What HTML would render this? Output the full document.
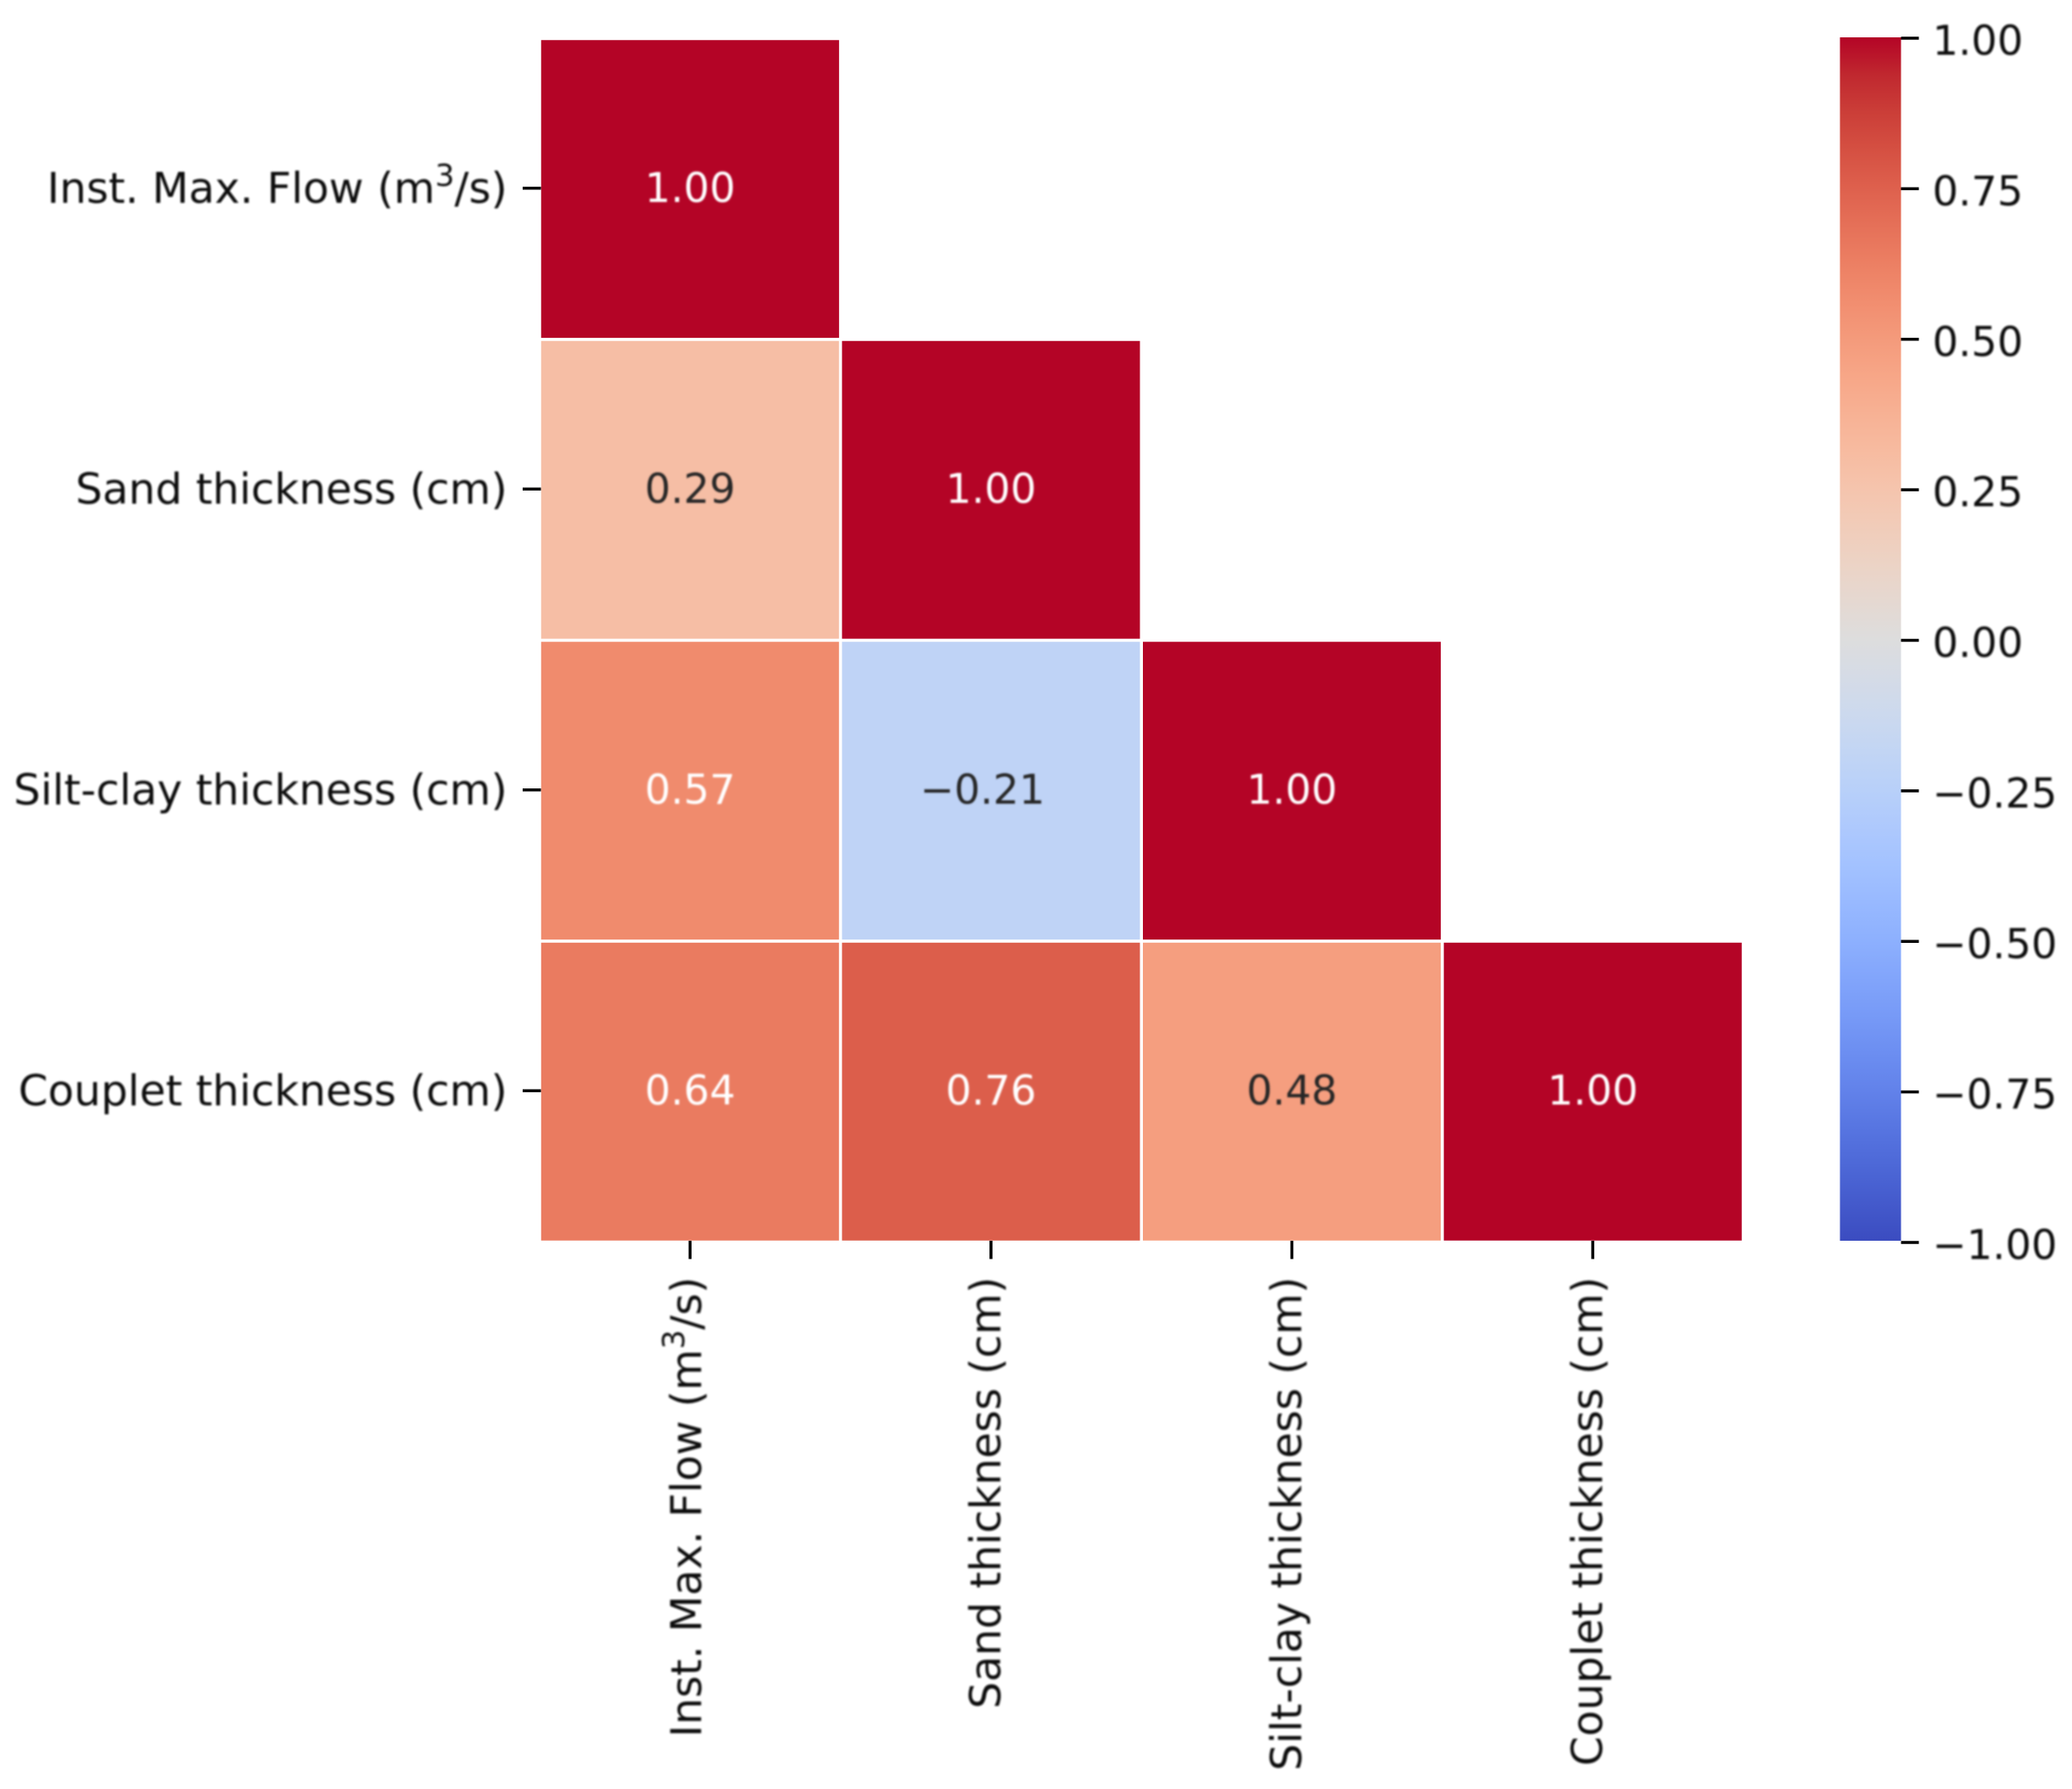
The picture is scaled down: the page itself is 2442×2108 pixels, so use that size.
<!DOCTYPE html>
<html lang="en">
<head>
<meta charset="utf-8">
<title>Correlation heatmap</title>
<style>
  html, body { margin: 0; padding: 0; background: #ffffff; }
  svg { display: block; }
  text { font-family: "DejaVu Sans", "Liberation Sans", sans-serif; }
</style>
</head>
<body>
<svg id="chart" xmlns="http://www.w3.org/2000/svg" width="2442" height="2108" viewBox="0 0 2442 2108">
  <defs>
    <linearGradient id="cbar-gradient" x1="0" y1="1" x2="0" y2="0"></linearGradient>
    <filter id="soft" x="-5%" y="-5%" width="110%" height="110%"><feGaussianBlur stdDeviation="1"></feGaussianBlur></filter>
  </defs>
  <g id="cells"></g>
  <g id="annotations" filter="url(#soft)"></g>
  <g id="y-axis"></g>
  <g id="x-axis"></g>
  <rect id="cbar" x="2168.5" y="44" width="72" height="1418" fill="url(#cbar-gradient)"></rect>
  <g id="cbar-axis"></g>
</svg>
<script>
// Chart data
const rowLabels = ['Inst. Max. Flow (m^3/s)', 'Sand thickness (cm)', 'Silt-clay thickness (cm)', 'Couplet thickness (cm)'];
const colLabels = ['Inst. Max. Flow (m^3/s)', 'Sand thickness (cm)', 'Silt-clay thickness (cm)', 'Couplet thickness (cm)'];
const row1Values = [1.00, null, null, null];
const row2Values = [0.29, 1.00, null, null];
const row3Values = [0.57, -0.21, 1.00, null];
const row4Values = [0.64, 0.76, 0.48, 1.00];
const cbarTicks = [1.00, 0.75, 0.50, 0.25, 0.00, -0.25, -0.50, -0.75, -1.00];
const valueMin = -1;
const valueMax = 1;

// matplotlib "coolwarm" colormap, evenly spaced control colours
const coolwarm = [
  [0.2298057,0.298717966,0.753683153],[0.26623388,0.353094838,0.801466763],[0.30386891,0.406535296,0.84495867],
  [0.342804478,0.458757618,0.883725899],[0.38301334,0.50941904,0.917387822],[0.424369608,0.558148092,0.945619588],
  [0.46666708,0.604562568,0.968154911],[0.509635204,0.648280772,0.98478814],[0.552953156,0.688929332,0.995375608],
  [0.596262162,0.726149107,0.999836203],[0.639176211,0.759599947,0.998151185],[0.681291281,0.788964712,0.990363227],
  [0.722193294,0.813952739,0.976574709],[0.761464949,0.834302879,0.956945269],[0.798691636,0.849786142,0.931688648],
  [0.833466556,0.860207984,0.901068838],[0.865395197,0.86541021,0.865395561],[0.897787179,0.848937047,0.820880546],
  [0.924127593,0.827384882,0.774508472],[0.944468518,0.800927443,0.726736146],[0.958852946,0.769767752,0.678007945],
  [0.96732803,0.734132809,0.628751763],[0.969954137,0.694266682,0.579375448],[0.966811177,0.650421156,0.530263762],
  [0.958003065,0.602842431,0.481775914],[0.943660866,0.551750968,0.434243684],[0.923944917,0.49730856,0.387970225],
  [0.89904617,0.439559467,0.343229596],[0.869186849,0.378313092,0.300267182],[0.834620542,0.312874446,0.259301199],
  [0.795631745,0.24128379,0.220525627],[0.752534934,0.157246067,0.184115123],[0.705673158,0.01555616,0.150232812]
];

const matrix = [row1Values, row2Values, row3Values, row4Values];
const NS = 'http://www.w3.org/2000/svg';
const FONT_SIZE = 48;
const AXIS_FONT_SIZE = 50;
const TICK_COLOR = '#000000';
const LABEL_COLOR = '#111111';

// Axis functions (grid lines run 1.75px outside the visible cell edge, white on white)
const plot = { left: 636, right: 2054.5, top: 45.5, bottom: 1463.5 };
const cbarBox = { right: 2240.5, top: 45, bottom: 1464 };
function xBand() { return (plot.right - plot.left) / colLabels.length; }
function yBand() { return (plot.bottom - plot.top) / rowLabels.length; }
function xEdge(col) { return plot.left + col * xBand(); }
function yEdge(row) { return plot.top + row * yBand(); }
function xCenter(col) { return xEdge(col) + xBand() / 2; }
function yCenter(row) { return yEdge(row) + yBand() / 2; }
function cbarY(v) { return cbarBox.bottom - (v - valueMin) / (valueMax - valueMin) * (cbarBox.bottom - cbarBox.top); }

function rgbOf(v) {
  const t = Math.max(0, Math.min(1, (v - valueMin) / (valueMax - valueMin))) * (coolwarm.length - 1);
  const i = Math.min(Math.floor(t), coolwarm.length - 2);
  const f = t - i;
  return coolwarm[i].map((c, k) => c + (coolwarm[i + 1][k] - c) * f);
}
function cssColor(rgb) {
  return 'rgb(' + rgb.map(c => Math.round(c * 255)).join(',') + ')';
}
function luminance(rgb) {
  const lin = rgb.map(c => c <= 0.03928 ? c / 12.92 : Math.pow((c + 0.055) / 1.055, 2.4));
  return 0.2126 * lin[0] + 0.7152 * lin[1] + 0.0722 * lin[2];
}
function fmt(v) {
  return (v < 0 ? '\u2212' : '') + Math.abs(v).toFixed(2);
}
function make(tag, attrs, parent) {
  const el = document.createElementNS(NS, tag);
  Object.keys(attrs).forEach(k => el.setAttribute(k, attrs[k]));
  parent.appendChild(el);
  return el;
}
// Writes a label, raising the character after "^" as a superscript
function writeLabel(el, label) {
  const parts = label.split('^');
  if (parts.length === 1) { el.textContent = label; return; }
  el.appendChild(document.createTextNode(parts[0]));
  const sup = make('tspan', { 'font-size': AXIS_FONT_SIZE * 0.72, dy: -20 }, el);
  sup.textContent = parts[1].charAt(0);
  const rest = make('tspan', { dy: 20 }, el);
  rest.textContent = parts[1].slice(1);
}

const cellsG = document.getElementById('cells');
const annotG = document.getElementById('annotations');
const yAxisG = document.getElementById('y-axis');
const xAxisG = document.getElementById('x-axis');
const cbarAxisG = document.getElementById('cbar-axis');
const gradient = document.getElementById('cbar-gradient');

// Heatmap cells and annotations
matrix.forEach((values, r) => {
  values.forEach((v, c) => {
    if (v === null) return;
    const rgb = rgbOf(v);
    const cell = make('rect', {
      x: xEdge(c), y: yEdge(r), width: xBand(), height: yBand(),
      fill: cssColor(rgb), stroke: '#ffffff', 'stroke-width': 3.5
    }, cellsG);
    
    

    const note = make('text', {
      x: xCenter(c) - (v < 0 ? 10 : 0), y: yCenter(r) + 15, 'text-anchor': 'middle', 'font-size': FONT_SIZE,
      fill: luminance(rgb) < 0.408 ? '#ffffff' : '#262626'
    }, annotG);
    note.textContent = fmt(v);
    
    
  });
});

// Y axis
rowLabels.forEach((label, r) => {
  const tick = make('line', {
    x1: plot.left - 20, x2: plot.left + 1.5, y1: yCenter(r) - 1, y2: yCenter(r) - 1,
    stroke: TICK_COLOR, 'stroke-width': 3.5
  }, yAxisG);
  
  

  const text = make('text', {
    x: plot.left - 38, y: yCenter(r) + 16, 'text-anchor': 'end', 'font-size': AXIS_FONT_SIZE,
    fill: LABEL_COLOR, filter: 'url(#soft)'
  }, yAxisG);
  writeLabel(text, label);
  
  
});

// X axis
colLabels.forEach((label, c) => {
  const tick = make('line', {
    x1: xCenter(c), x2: xCenter(c), y1: plot.bottom - 1.5, y2: plot.bottom + 20,
    stroke: TICK_COLOR, 'stroke-width': 3.5
  }, xAxisG);
  
  

  const bx = xCenter(c) + (label.indexOf('^') >= 0 ? 13 : 11);
  const by = plot.bottom + 41;
  const text = make('text', {
    x: 0, y: 0, transform: 'translate(' + bx + ',' + by + ') rotate(-90)', 'text-anchor': 'end',
    'font-size': AXIS_FONT_SIZE, fill: LABEL_COLOR, filter: 'url(#soft)'
  }, xAxisG);
  writeLabel(text, label);
  
  
});

// Colorbar gradient
coolwarm.forEach((rgb, i) => {
  const stop = make('stop', { offset: i / (coolwarm.length - 1), 'stop-color': cssColor(rgb) }, gradient);
  
  
});

// Colorbar ticks
cbarTicks.forEach(v => {
  const y = cbarY(v);
  const tick = make('line', {
    x1: cbarBox.right, x2: cbarBox.right + 21, y1: y, y2: y,
    stroke: TICK_COLOR, 'stroke-width': 3.5
  }, cbarAxisG);
  
  

  const text = make('text', {
    x: cbarBox.right + 37, y: y + 19.5, 'font-size': FONT_SIZE, fill: LABEL_COLOR, filter: 'url(#soft)'
  }, cbarAxisG);
  text.textContent = fmt(v);
  
  
});
</script>
</body>
</html>
